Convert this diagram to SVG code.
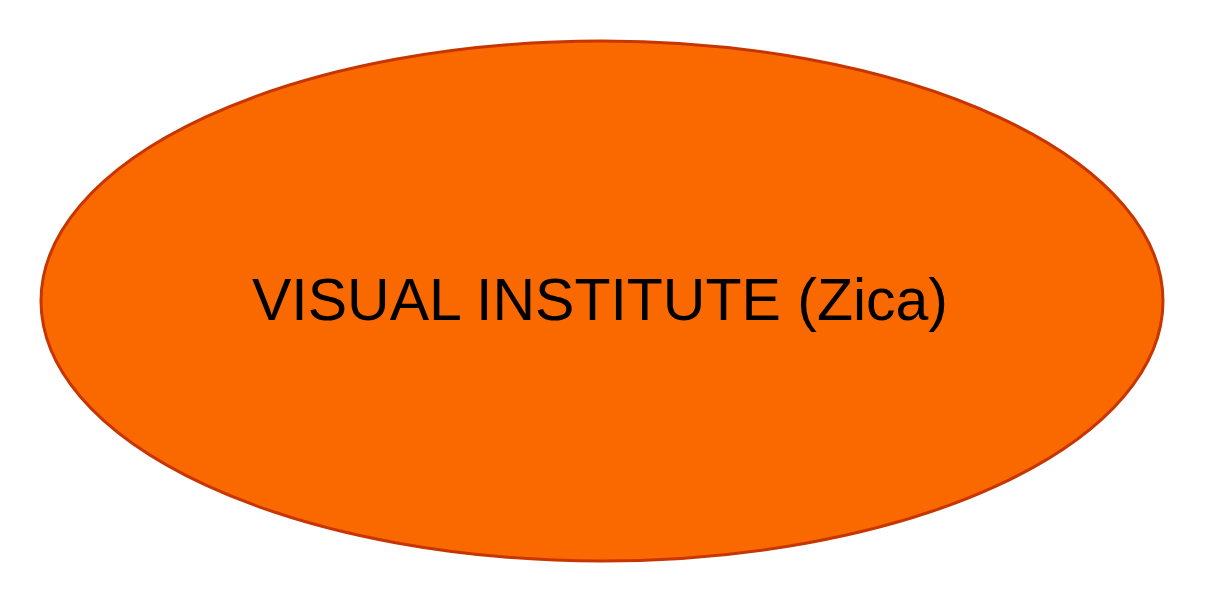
<svg xmlns="http://www.w3.org/2000/svg" width="1208" height="604" viewBox="0 0 1208 604">
<style>
.node{fill:#FA6800;stroke:#C73500;stroke-width:3}
.lbl{font-family:"Liberation Sans",Arial,sans-serif;font-size:59px;fill:#000;text-anchor:middle}
</style>
<rect width="1208" height="604" fill="#fff"/>
<g id="connectors"></g>
<g id="visual-institute">
<ellipse class="node" cx="602" cy="301" rx="561" ry="260"/>
<text class="lbl" x="600" y="320">VISUAL INSTITUTE (Zica)</text>
</g>
</svg>
